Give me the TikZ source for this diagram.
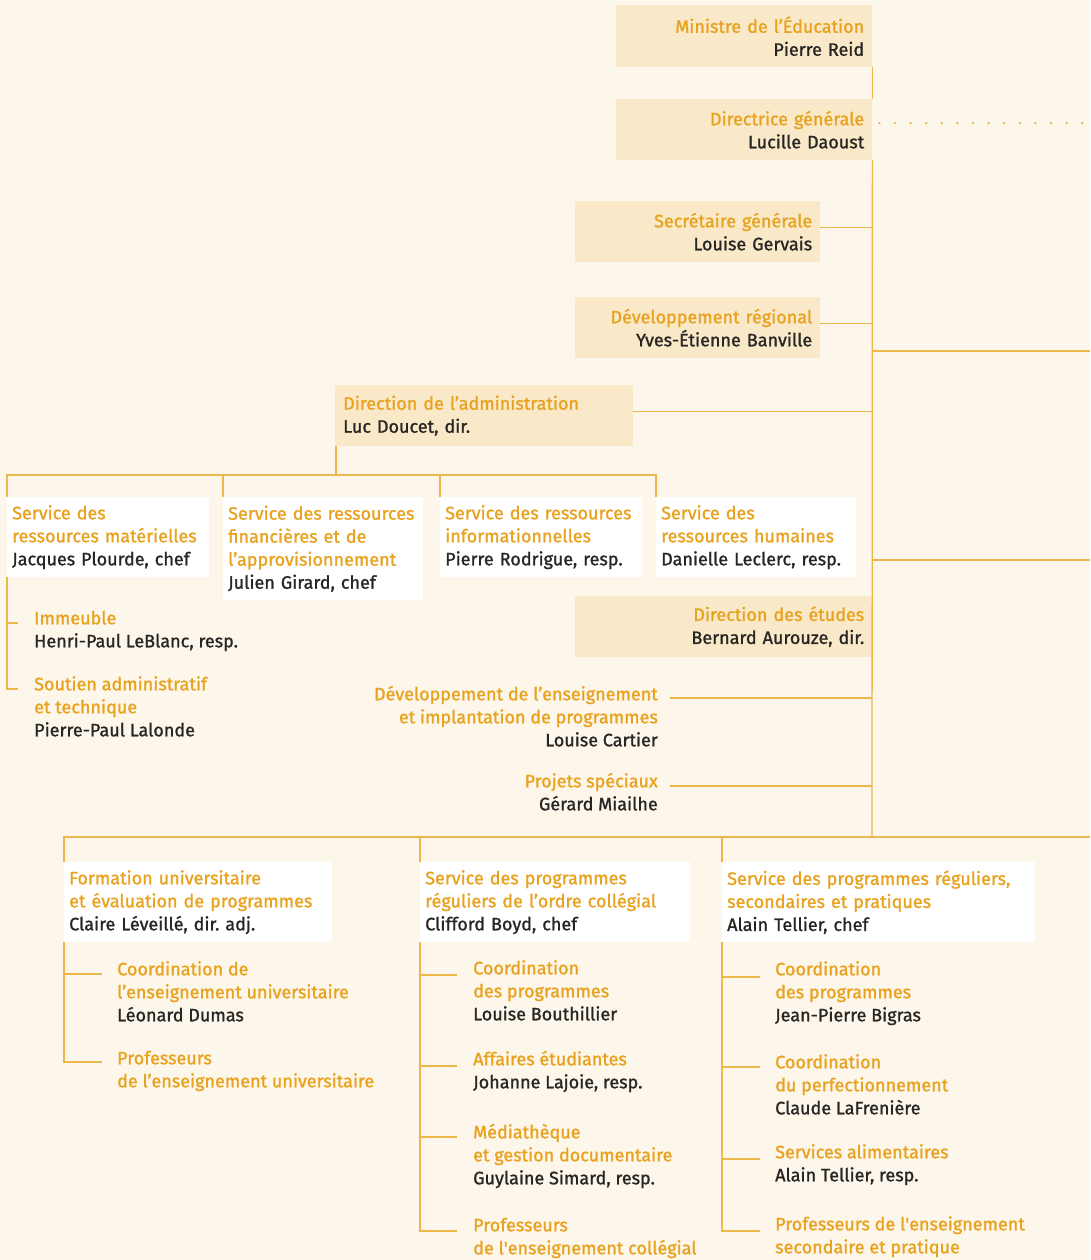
\documentclass[tikz,border=0pt]{standalone}
\usepackage{fontspec}
\setmainfont{Fira Sans}[UprightFeatures={FakeBold=1.2}]
\definecolor{bgc}{RGB}{253,246,234}
\definecolor{boxc}{RGB}{249,233,201}
\definecolor{ttlc}{RGB}{232,162,30}
\definecolor{lnc}{RGB}{236,183,75}
\definecolor{txtc}{RGB}{40,38,36}
\newcommand\orng[1]{\textcolor{ttlc}{#1}}
\tikzset{
  base/.style={font=\fontsize{18}{23}\selectfont\frenchspacing, text=txtc},
  tanbox/.style={base, fill=boxc, inner xsep=8pt, inner ysep=0pt, anchor=north west},
  whitebox/.style={base, fill=white, inner xsep=5pt, inner ysep=0pt, anchor=north west},
  freetxt/.style={base, inner sep=0pt},
  ln/.style={draw=lnc, line width=1.3pt},
}
\begin{document}
\begin{tikzpicture}[x=1pt,y=-1pt]
\useasboundingbox (0,0) rectangle (1090,1260);
\fill[bgc] (0,0) rectangle (1090,1260);

% top boxes
\node[tanbox, minimum width=256pt, text width=240pt, minimum height=62pt, align=right] (min) at (616,5) {\orng{Ministre de l’Éducation}\\Pierre Reid};
\node[tanbox, minimum width=256pt, text width=240pt, minimum height=61pt, align=right] (dir) at (616,99) {\orng{Directrice générale}\\Lucille Daoust};
\node[tanbox, minimum width=245pt, text width=229pt, minimum height=61pt, align=right] (sec) at (575,201) {\orng{Secrétaire générale}\\Louise Gervais};
\node[tanbox, minimum width=245pt, text width=229pt, minimum height=61pt, align=right] (dev) at (575,297) {\orng{Développement régional}\\Yves-Étienne Banville};
\node[tanbox, minimum width=298pt, text width=282pt, minimum height=61pt, align=left] (adm) at (335,385) {\orng{Direction de l’administration}\\Luc Doucet, dir.};

% services under administration
\node[whitebox, minimum width=200pt, text width=192pt, minimum height=80pt, align=left] (s1) at (7,497) {\orng{Service des}\\\orng{ressources matérielles}\\Jacques Plourde, chef};
\node[whitebox, minimum width=198pt, text width=190pt, minimum height=103pt, align=left] (s2) at (223,497) {\orng{Service des ressources}\\\orng{financières et de}\\\orng{l’approvisionnement}\\Julien Girard, chef};
\node[whitebox, minimum width=200pt, text width=192pt, minimum height=80pt, align=left] (s3) at (440,497) {\orng{Service des ressources}\\\orng{informationnelles}\\Pierre Rodrigue, resp.};
\node[whitebox, minimum width=198pt, text width=190pt, minimum height=80pt, align=left] (s4) at (656,497) {\orng{Service des}\\\orng{ressources humaines}\\Danielle Leclerc, resp.};

\node[freetxt, anchor=north west, align=left] (imm) at (34,608) {\strut\orng{Immeuble}\\Henri-Paul LeBlanc, resp.};
\node[freetxt, anchor=north west, align=left] (sou) at (34,674) {\strut\orng{Soutien administratif}\\\orng{et technique}\\Pierre-Paul Lalonde};

% direction des etudes
\node[tanbox, minimum width=297pt, text width=281pt, minimum height=61pt, align=right] (etu) at (575,596) {\orng{Direction des études}\\Bernard Aurouze, dir.};
\node[freetxt, anchor=north east, align=right] (ens) at (658,684) {\strut\orng{Développement de l’enseignement}\\\orng{et implantation de programmes}\\Louise Cartier};
\node[freetxt, anchor=north east, align=right] (pro) at (658,771) {\strut\orng{Projets spéciaux}\\Gérard Miailhe};

% bottom boxes
\node[whitebox, minimum width=266pt, text width=258pt, minimum height=80pt, align=left] (ba) at (64,862) {\orng{Formation universitaire}\\\orng{et évaluation de programmes}\\Claire Léveillé, dir. adj.};
\node[whitebox, minimum width=268pt, text width=260pt, minimum height=80pt, align=left] (bb) at (420,862) {\orng{Service des programmes}\\\orng{réguliers de l’ordre collégial}\\Clifford Boyd, chef};
\node[whitebox, minimum width=311pt, text width=303pt, minimum height=80pt, align=left] (bc) at (722,862) {\orng{Service des programmes réguliers,}\\\orng{secondaires et pratiques}\\Alain Tellier, chef};

% column A items
\node[freetxt, anchor=north west, align=left] (a1) at (117,959) {\strut\orng{Coordination de}\\\orng{l’enseignement universitaire}\\Léonard Dumas};
\node[freetxt, anchor=north west, align=left] (a2) at (117,1048) {\strut\orng{Professeurs}\\\orng{de l’enseignement universitaire}};
% column B items
\node[freetxt, anchor=north west, align=left] (b1) at (473,958) {\strut\orng{Coordination}\\\orng{des programmes}\\Louise Bouthillier};
\node[freetxt, anchor=north west, align=left] (b2) at (473,1049) {\strut\orng{Affaires étudiantes}\\Johanne Lajoie, resp.};
\node[freetxt, anchor=north west, align=left] (b3) at (473,1122) {\strut\orng{Médiathèque}\\\orng{et gestion documentaire}\\Guylaine Simard, resp.};
\node[freetxt, anchor=north west, align=left] (b4) at (473,1215) {\strut\orng{Professeurs}\\\orng{de l\textquotesingle enseignement collégial}};
% column C items
\node[freetxt, anchor=north west, align=left] (c1) at (775,959) {\strut\orng{Coordination}\\\orng{des programmes}\\Jean-Pierre Bigras};
\node[freetxt, anchor=north west, align=left] (c2) at (775,1052) {\strut\orng{Coordination}\\\orng{du perfectionnement}\\Claude LaFrenière};
\node[freetxt, anchor=north west, align=left] (c3) at (775,1142) {\strut\orng{Services alimentaires}\\Alain Tellier, resp.};
\node[freetxt, anchor=north west, align=left] (c4) at (775,1214) {\strut\orng{Professeurs de l\textquotesingle enseignement}\\\orng{secondaire et pratique}};

% coordinates
\coordinate (trunk) at (872,837);
\coordinate (r1) at (1090,351);
\coordinate (r2) at (1090,560);
\coordinate (r3) at (1090,837);
\coordinate (dotend) at (1086,123);
\coordinate (hbar) at (656,475);
\coordinate (t1) at (18,623);
\coordinate (t2) at (18,689);
\coordinate (ensT) at (670,698);
\coordinate (proT) at (670,786);
\coordinate (a1t) at (102,974);
\coordinate (a2t) at (102,1062);
\coordinate (b1t) at (457,975);
\coordinate (b2t) at (457,1066);
\coordinate (b3t) at (457,1137);
\coordinate (b4t) at (457,1231);
\coordinate (c1t) at (760,977);
\coordinate (c2t) at (760,1067);
\coordinate (c3t) at (760,1159);
\coordinate (c4t) at (760,1231);

% connectors
\draw[ln] (min.south east) -- (dir.north east);
\draw[ln] (dir.south east) -- (trunk);
\draw[draw=lnc, line width=2.6pt, line cap=round, dash pattern=on 0pt off 15.6pt] ([xshift=7pt,yshift=6.5pt]dir.east) -- (dotend);
\draw[ln] ([yshift=4.5pt]sec.east) -- ([yshift=4.5pt]sec.east -| trunk);
\draw[ln] ([yshift=4.5pt]dev.east) -- ([yshift=4.5pt]dev.east -| trunk);
\draw[ln] ([yshift=4.5pt]adm.east) -- ([yshift=4.5pt]adm.east -| trunk);
\draw[ln] (trunk |- r1) -- (r1);
\draw[ln] (trunk |- r2) -- (r2);
\draw[ln] ([xshift=1pt]adm.south west) -- ([xshift=1pt]adm.south west |- hbar);
\draw[ln] (s1.north west) |- (hbar) -- (s4.north west);
\draw[ln] (s2.north west) -- (s2.north west |- hbar);
\draw[ln] (s3.north west) -- (s3.north west |- hbar);
\draw[ln] (s1.south west) |- (t2);
\draw[ln] (s1.south west |- t1) -- (t1);
\draw[ln] (ensT) -- (ensT -| trunk);
\draw[ln] (proT) -- (proT -| trunk);
\draw[ln] (ba.north west) |- (r3);
\draw[ln] (bb.north west) -- (bb.north west |- r3);
\draw[ln] (bc.north west) -- (bc.north west |- r3);
\draw[ln] (ba.south west) |- (a2t);
\draw[ln] (ba.south west |- a1t) -- (a1t);
\draw[ln] (bb.south west) |- (b4t);
\draw[ln] (bb.south west |- b1t) -- (b1t);
\draw[ln] (bb.south west |- b2t) -- (b2t);
\draw[ln] (bb.south west |- b3t) -- (b3t);
\draw[ln] (bc.south west) |- (c4t);
\draw[ln] (bc.south west |- c1t) -- (c1t);
\draw[ln] (bc.south west |- c2t) -- (c2t);
\draw[ln] (bc.south west |- c3t) -- (c3t);
\end{tikzpicture}
\end{document}
